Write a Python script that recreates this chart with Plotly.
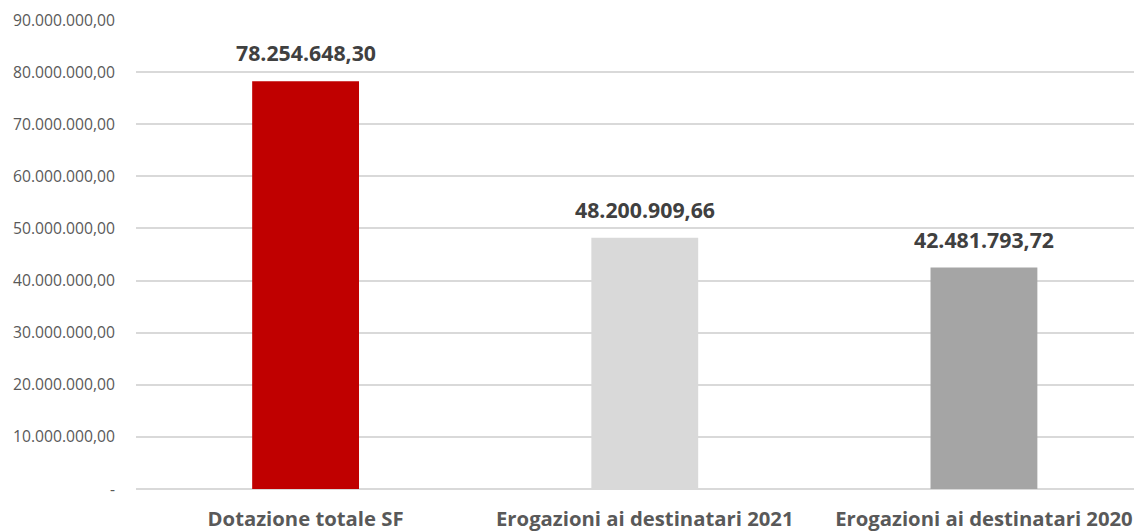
import plotly.graph_objects as go

categories = ["Dotazione totale SF", "Erogazioni ai destinatari 2021", "Erogazioni ai destinatari 2020"]
values = [78254648.30, 48200909.66, 42481793.72]
colors = ["#C00000", "#D9D9D9", "#A5A5A5"]
tick_values = [0, 10e6, 20e6, 30e6, 40e6, 50e6, 60e6, 70e6, 80e6, 90e6]


def it_fmt(v):
    s = f"{v:,.2f}"
    return s.replace(",", "X").replace(".", ",").replace("X", ".")


tick_text = ["-" if v == 0 else it_fmt(v) for v in tick_values]

fig = go.Figure()
fig.add_trace(go.Bar(
    x=list(range(len(categories))), y=values,
    marker=dict(color=colors, line=dict(width=0)),
    width=0.315, hoverinfo="skip",
))
for i, v in enumerate(values):
    fig.add_annotation(x=i, y=v, text=f"<b>{it_fmt(v)}</b>", showarrow=False,
                       yanchor="bottom", yshift=12,
                       font=dict(family="Open Sans", size=21.3, color="#404040"))

fig.update_layout(
    width=1134, height=523,
    margin=dict(l=128, r=0, t=12, b=42),
    plot_bgcolor="white", paper_bgcolor="white",
    showlegend=False,
    font=dict(family="Open Sans"),
    xaxis=dict(
        range=[-0.5, 2.466],
        tickmode="array", tickvals=list(range(len(categories))),
        ticktext=[f"<b>{c}</b>" for c in categories],
        tickfont=dict(family="Open Sans", size=20.3, color="#595959"),
        showgrid=False, zeroline=False, showline=False,
        ticks="", ticklabelstandoff=16,
    ),
    yaxis=dict(
        range=[0, 90e6],
        tickmode="array", tickvals=tick_values, ticktext=tick_text,
        tickfont=dict(family="Open Sans", size=15.7, color="#595959"),
        showgrid=True, gridcolor="#D9D9D9", gridwidth=1.5,
        zeroline=True, zerolinecolor="#D9D9D9", zerolinewidth=1.5,
        showline=False, ticks="", ticklabelstandoff=20,
    ),
)
fig.write_html("out.html")
